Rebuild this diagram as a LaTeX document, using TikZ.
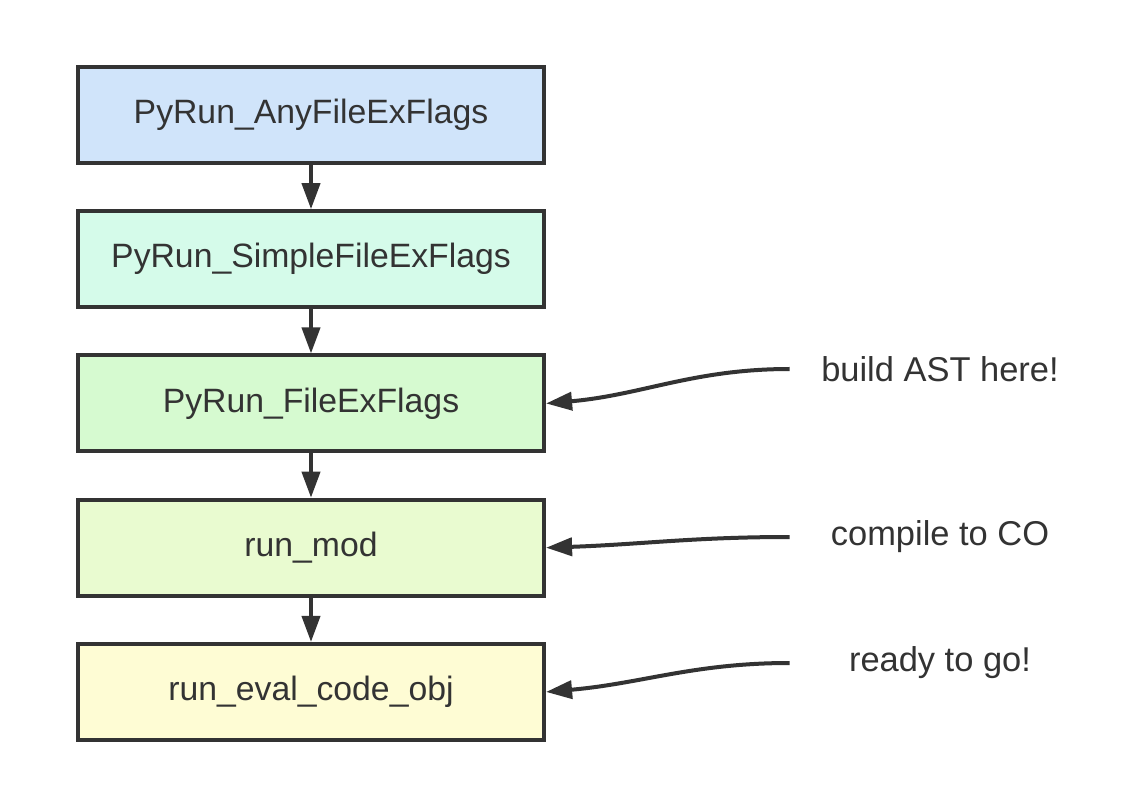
\documentclass[tikz,border=0pt]{standalone}
\usepackage{fontspec}
\setmainfont{Liberation Sans}
\usetikzlibrary{arrows.meta, positioning}
\definecolor{dark}{HTML}{333333}
\definecolor{boxblue}{HTML}{D0E4FA}
\definecolor{boxmint}{HTML}{D5FBEA}
\definecolor{boxgreen}{HTML}{D6FAD0}
\definecolor{boxlime}{HTML}{E9FBD0}
\definecolor{boxyellow}{HTML}{FEFCD4}
\tikzstyle{block}  = [rectangle, draw=dark, line width=0.1cm, minimum width=11.65cm,
                      minimum height=2.4cm, text=dark, font=\fontsize{24}{28}\selectfont]
\tikzstyle{note}   = [minimum width=7.5cm, inner sep=0pt, text=dark,
                      font=\fontsize{24.5}{28}\selectfont]
\tikzstyle{arrow}  = [-{Triangle[length=0.65cm, width=0.45cm]}, line width=0.1cm, color=dark]

\begin{document}
\begin{tikzpicture}[x=0.025cm, y=-0.025cm, node distance=1.105cm]
  \useasboundingbox (0,0) rectangle (1138,806);

  %% Call chain
  \node[block, fill=boxblue] (anyfile) at (311,115) {PyRun\_AnyFileExFlags};
  \node[block, fill=boxmint, below=of anyfile] (simple) {PyRun\_SimpleFileExFlags};
  \node[block, fill=boxgreen, below=of simple] (fileex) {PyRun\_FileExFlags};
  \node[block, fill=boxlime, below=of fileex] (runmod) {run\_mod};
  \node[block, fill=boxyellow, below=of runmod] (evalco) {run\_eval\_code\_obj};

  %% Notes
  \node[note] (ast) at (940,369) {build AST here!};
  \node[note] (compile) at (940,537) {compile to CO};
  \node[note] (ready) at (940,663) {ready to go!};

  %% Arrows
  \draw[arrow] (anyfile) -- (simple);
  \draw[arrow] (simple) -- (fileex);
  \draw[arrow] (fileex) -- (runmod);
  \draw[arrow] (runmod) -- (evalco);
  \draw[arrow] (ast.west) to[out=180, in=5] (fileex.east);
  \draw[arrow] (compile.west) to[out=180, in=2] (runmod.east);
  \draw[arrow] (ready.west) to[out=180, in=5] (evalco.east);

\end{tikzpicture}
\end{document}
